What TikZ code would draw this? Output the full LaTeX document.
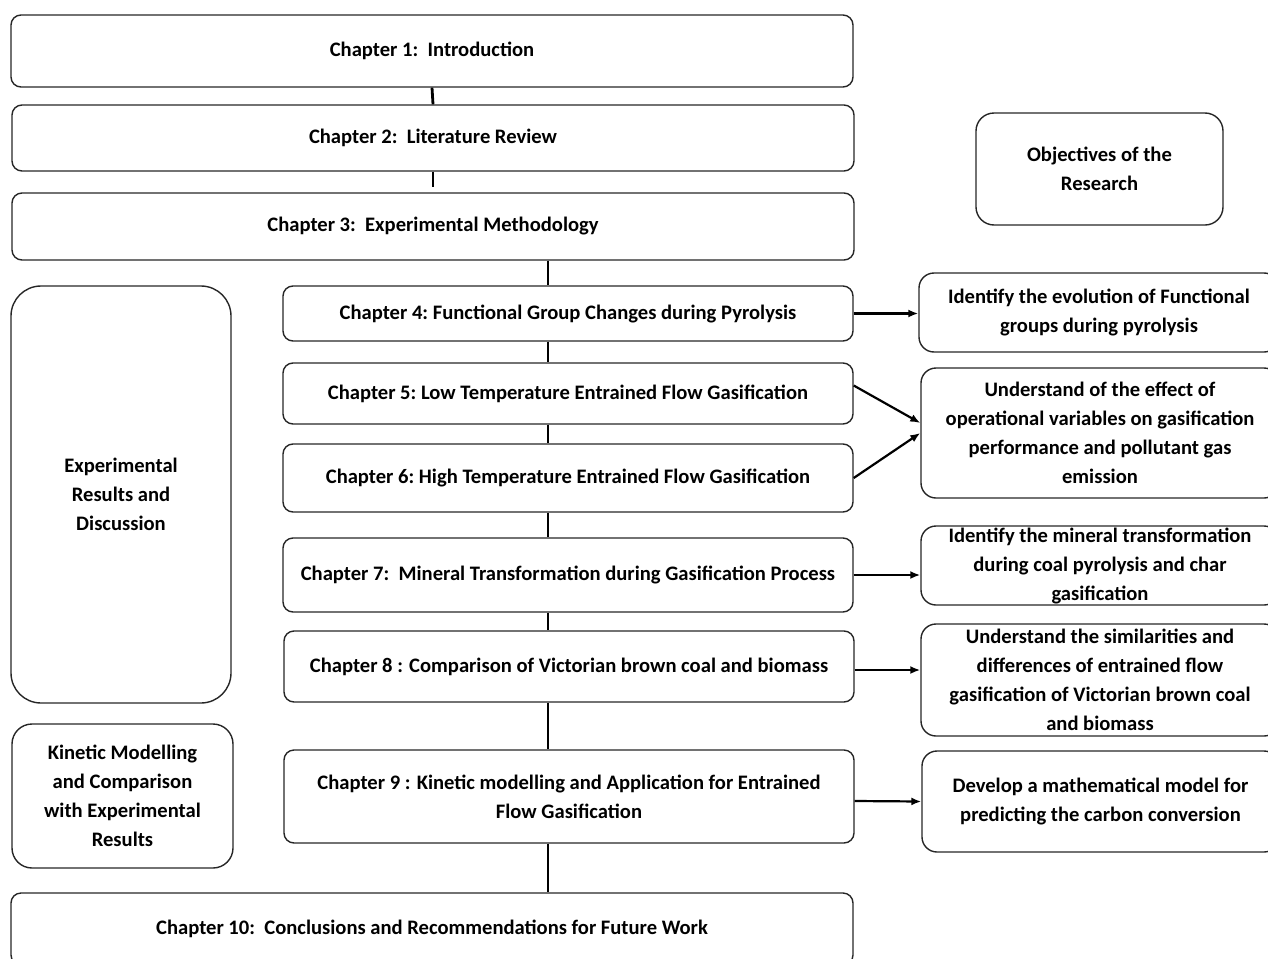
\documentclass[tikz,border=0pt]{standalone}
\usepackage{fontspec}
\setmainfont{Carlito}
\usetikzlibrary{arrows.meta}
\begin{document}
\begin{tikzpicture}[x=1pt,y=-1pt,
  base/.style={draw=black!85, line width=1.4pt, align=center, inner sep=0pt,
    font=\fontsize{20.6}{29}\selectfont\bfseries},
  chap/.style={base, rounded corners=10pt},
  side/.style={base, rounded corners=30pt},
  obj/.style={base, rounded corners=15pt},
  link/.style={line width=2.8pt},
  arr/.style={line width=2.2pt, -{Latex[length=10pt,width=8pt]}}]
\useasboundingbox (0,0) rectangle (1268,958);
\clip (0,0) rectangle (1268,958);
% chapter boxes
\node[chap, minimum width=842pt, minimum height=72pt] (b1) at (432,51) {Chapter 1:\ \ Introduction};
\node[chap, minimum width=842pt, minimum height=66pt] (b2) at (433,138) {Chapter 2:\ \ Literature Review};
\node[chap, minimum width=842pt, minimum height=67pt] (b3) at (433,226.5) {Chapter 3:\ \ Experimental Methodology};
\node[chap, minimum width=570pt, minimum height=55pt] (b4) at (568,313.5) {Chapter 4:\ Functional Group Changes during Pyrolysis};
\node[chap, minimum width=570pt, minimum height=61pt] (b5) at (568,393.5) {Chapter 5:\ Low Temperature Entrained Flow Gasification};
\node[chap, minimum width=570pt, minimum height=68pt] (b6) at (568,478) {Chapter 6:\ High Temperature Entrained Flow Gasification};
\node[chap, minimum width=570pt, minimum height=74pt] (b7) at (568,575) {Chapter 7:\ \ Mineral Transformation during Gasification Process};
\node[chap, minimum width=570pt, minimum height=71pt] (b8) at (569,666.5) {Chapter 8 : Comparison of Victorian brown coal and biomass};
\node[chap, minimum width=570pt, minimum height=93pt] (b9) at (569,796.5) {Chapter 9 : Kinetic modelling and Application for Entrained\\Flow Gasification};
\node[chap, minimum width=842pt, minimum height=72pt] (b10) at (432,929) {Chapter 10:\ \ Conclusions and Recommendations for Future Work};
% side boxes
\node[side, minimum width=220pt, minimum height=417pt] (exp) at (121,494.5) {Experimental\\Results and\\Discussion};
\node[side, rounded corners=20pt, minimum width=221pt, minimum height=144pt] (kin) at (122.5,796) {Kinetic Modelling\\and Comparison\\with Experimental\\Results};
% objectives
\node[obj, rounded corners=18pt, minimum width=247pt, minimum height=112pt] (obj) at (1099.5,169) {Objectives of the\\Research};
\node[obj, minimum width=360pt, minimum height=79pt] (r1) at (1099,312.5) {Identify the evolution of Functional\\groups during pyrolysis};
\node[obj, minimum width=358pt, minimum height=130pt] (r2) at (1100,433) {Understand of the effect of\\operational variables on gasification\\performance and pollutant gas\\emission};
\node[obj, minimum width=358pt, minimum height=79pt] (r3) at (1100,565.5) {Identify the mineral transformation\\during coal pyrolysis and char\\gasification};
\node[obj, minimum width=358pt, minimum height=112pt] (r4) at (1100,680) {Understand the similarities and\\differences of entrained flow\\gasification of Victorian brown coal\\and biomass};
\node[obj, minimum width=357pt, minimum height=101pt] (r5) at (1100.5,801.5) {Develop a mathematical model for\\predicting the carbon conversion};
% spine
\coordinate (spine) at (548,0);
\draw[link] (b1.south) -- (b2.north);
\draw[link] (b2.south) -- ([yshift=5pt]b3.north);
\draw[link] (b3.south -| spine) -- (b4.north -| spine);
\draw[link] (b4.south -| spine) -- (b5.north -| spine);
\draw[link] (b5.south -| spine) -- (b6.north -| spine);
\draw[link] (b6.south -| spine) -- (b7.north -| spine);
\draw[link] (b7.south -| spine) -- (b8.north -| spine);
\draw[link] (b8.south -| spine) -- (b9.north -| spine);
\draw[link] (b9.south -| spine) -- (b10.north -| spine);
% arrows
\draw[arr] (b4.east) -- (b4.east -| r1.west);
\draw[arr] ([yshift=8pt]b5.east) -- ([yshift=10pt]r2.west);
\draw[arr] (b6.east) -- (r2.west);
\draw[arr] (b7.east) -- (b7.east -| r3.west);
\draw[arr] ([yshift=-3.5pt]b8.east) -- ([yshift=-3.5pt]b8.east -| r4.west);
\draw[arr] ([yshift=-4.5pt]b9.east) -- (r5.west);
\end{tikzpicture}
\end{document}
